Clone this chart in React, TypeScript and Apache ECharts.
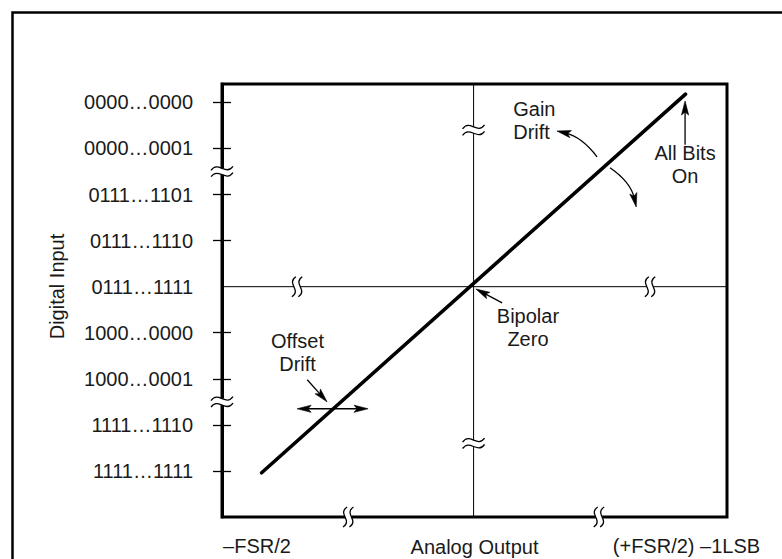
import React, { useEffect, useRef } from 'react';
import * as echarts from 'echarts';

// ---- data (y unit = one code step, x unit = same scale, 0 = bipolar zero) ----
const yTickValues = [0, 1, 2, 3, 4, 5, 6, 7, 8];
const yTickLabels = [
  '1111…1111',
  '1111…1110',
  '1000…0001',
  '1000…0000',
  '0111…1111',
  '0111…1110',
  '0111…1101',
  '0000…0001',
  '0000…0000',
];
const yTickMarks = [0, 1, 2, 3, 5, 6, 7, 8];
const xLabelValues = [-4.7, 4.62];
const xLabelTexts = ['–FSR/2', '(+FSR/2) –1LSB'];
const xRange = [-5.46, 5.5];
const yRange = [-1, 8.4];
const transferLine = [
  [-4.6, -0.04],
  [4.6, 8.18],
];
const bipolarZero = [[0, 4]];
// [x, y, kind] kind 0 = break on a vertical line, 1 = break on a horizontal line
const axisBreaks = [
  [-5.46, 6.5, 0],
  [-5.46, 1.5, 0],
  [0, 7.4, 0],
  [0, 0.6, 0],
  [-3.83, 4, 1],
  [3.83, 4, 1],
  [-2.72, -1, 1],
  [2.72, -1, 1],
];
// [x1, y1, x2 (tip), y2 (tip), curvature, double-headed]
const arrows = [
  [2.68, 6.82, 1.81, 7.38, 0.18, 0],
  [2.96, 6.58, 3.53, 5.73, -0.2, 0],
  [4.59, 7.08, 4.59, 8.03, 0, 0],
  [0.62, 3.65, 0.05, 3.95, 0, 0],
  [-3.61, 1.98, -3.18, 1.5, 0, 0],
  [-3.83, 1.35, -2.29, 1.35, 0, 1],
];
const annotationTexts = ['Gain\nDrift', 'All Bits\nOn', 'Bipolar\nZero', 'Offset\nDrift'];
const annotationPoints = [
  [0.86, 7.6],
  [4.59, 6.65],
  [1.18, 3.12],
  [-3.82, 2.57],
];
const annotationAlign = ['left', 'center', 'center', 'center'];

const FONT = '"Liberation Sans", Arial, Helvetica, sans-serif';
const INK = '#1a1a1a';

function findLabel(values: number[], texts: string[], v: number) {
  const i = values.findIndex((x) => Math.abs(x - v) < 1e-6);
  return i >= 0 ? texts[i] : '';
}

export default function App() {
  const ref = useRef<HTMLDivElement>(null);

  useEffect(() => {
    if (!ref.current) return;
    const chart = echarts.init(ref.current, undefined, { renderer: 'svg' });

    const tickStyle = { color: '#000', width: 1.3 };

    const option: any = {
      animation: false,
      backgroundColor: '#ffffff',
      textStyle: { fontFamily: FONT },
      graphic: [
        {
          type: 'rect',
          silent: true,
          z: -10,
          shape: { x: 12.5, y: 12.5, width: 840, height: 640 },
          style: { fill: 'none', stroke: '#000', lineWidth: 2.5 },
        },
      ],
      grid: {
        left: 222,
        top: 84,
        width: 505,
        height: 433,
        show: true,
        borderColor: '#000',
        borderWidth: 3,
        backgroundColor: 'transparent',
        containLabel: false,
        outerBoundsMode: 'none',
      },
      xAxis: {
        type: 'value',
        min: xRange[0],
        max: xRange[1],
        position: 'bottom',
        axisLine: { show: false, onZero: false },
        axisTick: { show: false },
        splitLine: { show: false },
        axisLabel: {
          customValues: xLabelValues,
          formatter: (v: number) => findLabel(xLabelValues, xLabelTexts, v),
          margin: 19,
          fontSize: 20,
          color: INK,
          fontFamily: FONT,
        },
        name: 'Analog Output',
        nameLocation: 'middle',
        nameGap: 20,
        nameMoveOverlap: false,
        nameTextStyle: { fontSize: 20, color: INK, fontFamily: FONT, verticalAlign: 'top' },
      },
      yAxis: [
        {
          type: 'value',
          min: yRange[0],
          max: yRange[1],
          position: 'left',
          axisLine: { show: true, onZero: false, lineStyle: { color: '#000', width: 3 } },
          splitLine: { show: false },
          axisTick: {
            show: true,
            inside: false,
            length: 9,
            customValues: yTickMarks,
            lineStyle: tickStyle,
          },
          axisLabel: {
            customValues: yTickValues,
            formatter: (v: number) => findLabel(yTickValues, yTickLabels, v),
            margin: 29,
            fontSize: 20,
            color: INK,
            fontFamily: FONT,
          },
          name: 'Digital Input',
          nameLocation: 'middle',
          nameGap: 155,
          nameMoveOverlap: false,
          nameTextStyle: { fontSize: 20, color: INK, fontFamily: FONT, padding: [0, 0, 0, 28] },
        },
        {
          type: 'value',
          min: yRange[0],
          max: yRange[1],
          position: 'left',
          axisLine: { show: false, onZero: false },
          splitLine: { show: false },
          axisLabel: { show: false },
          axisTick: {
            show: true,
            inside: true,
            length: 9,
            customValues: yTickMarks,
            lineStyle: tickStyle,
          },
        },
      ],
      series: [
        {
          name: 'Zero lines',
          type: 'custom',
          coordinateSystem: 'cartesian2d',
          z: 1,
          silent: true,
          clip: false,
          data: bipolarZero,
          renderItem: (params: any, api: any) => {
            const p = api.coord([api.value(0), api.value(1)]);
            const cs = params.coordSys;
            return {
              type: 'group',
              children: [
                {
                  type: 'line',
                  shape: { x1: p[0], y1: cs.y, x2: p[0], y2: cs.y + cs.height },
                  style: { stroke: '#000', lineWidth: 1 },
                },
                {
                  type: 'line',
                  shape: { x1: cs.x, y1: p[1], x2: cs.x + cs.width, y2: p[1] },
                  style: { stroke: '#000', lineWidth: 1 },
                },
              ],
            };
          },
        },
        {
          name: 'Transfer function',
          type: 'line',
          z: 3,
          silent: true,
          showSymbol: false,
          symbol: 'none',
          data: transferLine,
          lineStyle: { color: '#000', width: 3.6, cap: 'round' },
        },
        {
          name: 'Breaks',
          type: 'custom',
          coordinateSystem: 'cartesian2d',
          z: 4,
          silent: true,
          clip: false,
          data: axisBreaks,
          renderItem: (params: any, api: any) => {
            const p = api.coord([api.value(0), api.value(1)]);
            const kind = api.value(2);
            const g = 3.2;
            const children: any[] = [];
            if (kind === 0) {
              const w = 11;
              children.push({
                type: 'rect',
                shape: { x: -5, y: -g, width: 10, height: 2 * g },
                style: { fill: '#fff' },
              });
              [-g, g].forEach((y0) => {
                children.push({
                  type: 'bezierCurve',
                  shape: {
                    x1: -w, y1: y0 + 2,
                    cpx1: -w / 3, cpy1: y0 - 8,
                    cpx2: w / 3, cpy2: y0 + 8,
                    x2: w, y2: y0 - 2,
                  },
                  style: { stroke: '#000', fill: 'none', lineWidth: 1.3 },
                });
              });
            } else {
              const h = 10;
              children.push({
                type: 'rect',
                shape: { x: -g, y: -4, width: 2 * g, height: 8 },
                style: { fill: '#fff' },
              });
              [-g, g].forEach((x0) => {
                children.push({
                  type: 'bezierCurve',
                  shape: {
                    x1: x0 + 2, y1: -h,
                    cpx1: x0 - 8, cpy1: -h / 3,
                    cpx2: x0 + 8, cpy2: h / 3,
                    x2: x0 - 2, y2: h,
                  },
                  style: { stroke: '#000', fill: 'none', lineWidth: 1.3 },
                });
              });
            }
            return { type: 'group', x: p[0], y: p[1], children };
          },
        },
        {
          name: 'Arrows',
          type: 'custom',
          coordinateSystem: 'cartesian2d',
          z: 5,
          silent: true,
          clip: false,
          data: arrows,
          renderItem: (params: any, api: any) => {
            const a = api.coord([api.value(0), api.value(1)]);
            const b = api.coord([api.value(2), api.value(3)]);
            const curve = api.value(4);
            const both = api.value(5) === 1;
            const dx = b[0] - a[0];
            const dy = b[1] - a[1];
            const c = [(a[0] + b[0]) / 2 - dy * curve, (a[1] + b[1]) / 2 + dx * curve];
            const L = 14;
            const W = 3.6;
            const head = (tip: number[], from: number[]) => {
              const tx = tip[0] - from[0];
              const ty = tip[1] - from[1];
              const tl = Math.hypot(tx, ty) || 1;
              const ux = tx / tl;
              const uy = ty / tl;
              const bx = tip[0] - ux * L;
              const by = tip[1] - uy * L;
              return {
                poly: {
                  type: 'polygon',
                  shape: {
                    points: [
                      [tip[0], tip[1]],
                      [bx - uy * W, by + ux * W],
                      [bx + ux * 3, by + uy * 3],
                      [bx + uy * W, by - ux * W],
                    ],
                  },
                  style: { fill: '#000', stroke: '#000', lineWidth: 0.6 },
                },
                end: [tip[0] - ux * L * 0.6, tip[1] - uy * L * 0.6],
              };
            };
            const hb = head(b, c);
            const children: any[] = [hb.poly];
            let start = a;
            if (both) {
              const ha = head(a, c);
              children.push(ha.poly);
              start = ha.end;
            }
            children.unshift({
              type: 'bezierCurve',
              shape: {
                x1: start[0], y1: start[1],
                x2: hb.end[0], y2: hb.end[1],
                cpx1: c[0], cpy1: c[1],
              },
              style: { stroke: '#000', fill: 'none', lineWidth: 1.3 },
            });
            return { type: 'group', children };
          },
        },
        {
          name: 'Annotations',
          type: 'custom',
          coordinateSystem: 'cartesian2d',
          z: 6,
          silent: true,
          clip: false,
          data: annotationPoints,
          renderItem: (params: any, api: any) => {
            const p = api.coord([api.value(0), api.value(1)]);
            const i = params.dataIndex;
            return {
              type: 'text',
              x: p[0],
              y: p[1],
              style: {
                text: annotationTexts[i],
                fill: INK,
                fontSize: 20,
                fontFamily: FONT,
                align: annotationAlign[i],
                verticalAlign: 'middle',
                lineHeight: 23,
              },
            };
          },
        },
      ],
    };

    chart.setOption(option);
    return () => {
      chart.dispose();
    };
  }, []);

  return (
    <div
      ref={ref}
      style={{ position: 'absolute', left: 0, top: 0, width: 782, height: 559, background: '#fff' }}
    />
  );
}
